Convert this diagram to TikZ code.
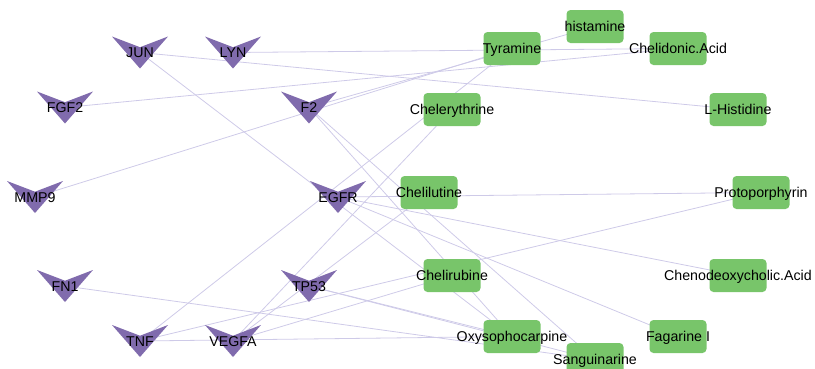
\documentclass[tikz,border=0pt]{standalone}
\usepackage{fontspec}
\setmainfont{Liberation Sans}
\definecolor{vpurple}{RGB}{128,107,173}
\definecolor{bgreen}{RGB}{120,197,106}
\definecolor{edgecol}{RGB}{206,202,232}
\pgfdeclarelayer{edgelayer}
\pgfsetlayers{edgelayer,main}
\tikzset{
  cpd/.style={fill=bgreen, rounded corners=4pt, minimum width=57pt, minimum height=33pt, inner sep=0pt},
  lbl/.style={font=\fontsize{14.2}{16}\selectfont, text=black, inner sep=0pt, text height=10.2pt, text depth=0pt},
  lnk/.style={draw=edgecol, line width=0.8pt},
  veeshape/.style={fill=vpurple}
}
\newcommand{\veenode}[4]{%
  \fill[veeshape] (#2-28,#3-16) -- (#2,#3-5.3) -- (#2+28,#3-16) -- (#2,#3+16) -- cycle;
  \node[lbl] (#1) at (#2,#3) {#4};}
\newcommand{\cpdnode}[4]{%
  \node[cpd] (#1) at (#2,#3) {};
  \node[lbl] (#1-t) at (#2,#3) {#4};}
\begin{document}
\begin{tikzpicture}[x=1pt,y=-1pt]
\useasboundingbox (0,0) rectangle (815,368);
% targets
\veenode{JUN}{140}{52.5}{JUN}
\veenode{LYN}{233}{52.5}{LYN}
\veenode{FGF2}{65}{107.5}{FGF2}
\veenode{F2}{309}{107.5}{F2}
\veenode{MMP9}{35}{197}{MMP9}
\veenode{EGFR}{338}{197}{EGFR}
\veenode{FN1}{65}{286}{FN1}
\veenode{TP53}{309}{286}{TP53}
\veenode{TNF}{140}{341}{TNF}
\veenode{VEGFA}{233}{341}{VEGFA}
% compounds
\cpdnode{Tyr}{512}{48.5}{Tyramine}
\cpdnode{Hist}{595}{26.5}{histamine}
\cpdnode{Chd}{678}{48.5}{Chelidonic.Acid}
\cpdnode{Cly}{452}{109.5}{Chelerythrine}
\cpdnode{LHis}{738}{109.5}{L-Histidine}
\cpdnode{Clu}{429}{192.5}{Chelilutine}
\cpdnode{Pro}{761}{192.5}{Protoporphyrin}
\cpdnode{Cru}{452}{275.5}{Chelirubine}
\cpdnode{Che}{738}{275.5}{Chenodeoxycholic.Acid}
\cpdnode{Oxy}{512}{336.5}{Oxysophocarpine}
\cpdnode{Fag}{678}{336.5}{Fagarine I}
\cpdnode{San}{595}{359.5}{Sanguinarine}
% edges
\begin{pgfonlayer}{edgelayer}
\draw[lnk] (JUN.center) -- (LHis.center);
\draw[lnk] (JUN.center) -- (Oxy.center);
\draw[lnk] (LYN.center) -- (Chd.center);
\draw[lnk] (FGF2.center) -- (Chd.center);
\draw[lnk] (MMP9.center) -- (Tyr.center);
\draw[lnk] (F2.center) -- (Hist.center);
\draw[lnk] (F2.center) -- (San.center);
\draw[lnk] (F2.center) -- (Oxy.center);
\draw[lnk] (EGFR.center) -- (Pro.center);
\draw[lnk] (EGFR.center) -- (Che.center);
\draw[lnk] (EGFR.center) -- (Fag.center);
\draw[lnk] (TNF.center) -- (Tyr.center);
\draw[lnk] (TNF.center) -- (Pro.center);
\draw[lnk] (TNF.center) -- (Oxy.center);
\draw[lnk] (VEGFA.center) -- (Cly.center);
\draw[lnk] (VEGFA.center) -- (Clu.center);
\draw[lnk] (VEGFA.center) -- (Cru.center);
\draw[lnk] (TP53.center) -- (Oxy.center);
\draw[lnk] (TP53.center) -- (San.center);
\draw[lnk] (FN1.center) -- (San.center);
\end{pgfonlayer}
\end{tikzpicture}
\end{document}
